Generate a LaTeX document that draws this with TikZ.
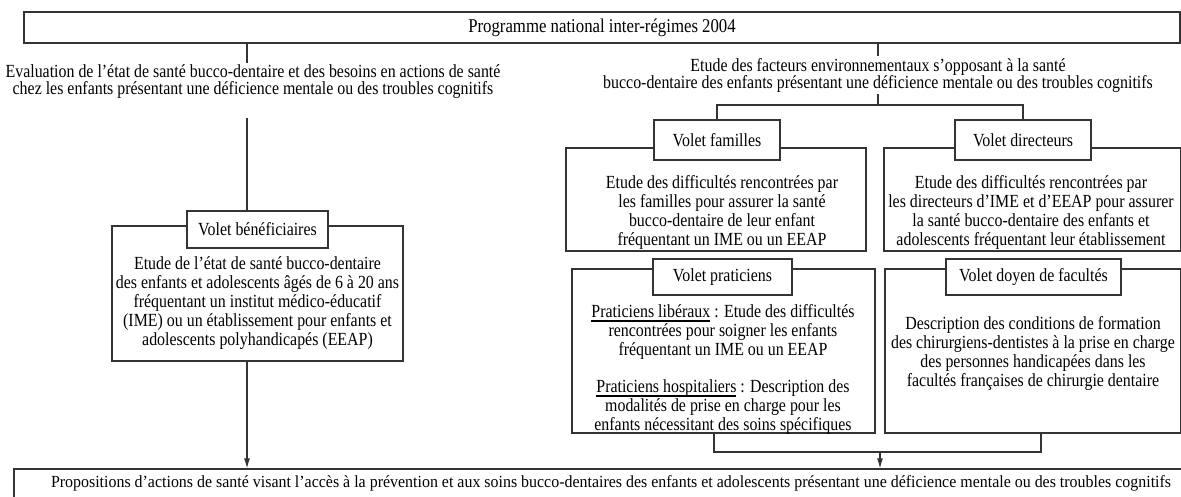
\documentclass[tikz,border=0pt]{standalone}
\usepackage{fontspec}
\setmainfont{Liberation Serif}[FakeStretch=0.86]
\usepackage{graphicx}
\usetikzlibrary{arrows.meta}
\newsavebox\ulbox
\newcommand\ulx[1]{\sbox\ulbox{#1}\rlap{\rule[-4.5pt]{\wd\ulbox}{1.7pt}}\usebox{\ulbox}}
\begin{document}
\begin{tikzpicture}[x=1pt,y=-1pt,
  every node/.style={font=\fontsize{18.5}{19}\selectfont},
  frame/.style={draw=black!80, line width=1.2pt, fill=white, inner sep=0pt},
  txt/.style={inner sep=0pt, align=center},
  hdr/.style={txt, font=\fontsize{18.5}{17}\selectfont},
  conn/.style={draw=black!80, line width=1.2pt},
  arr/.style={conn, -{Latex[length=10pt,width=6pt]}}]
\useasboundingbox (0,0) rectangle (1181,497);

% top
\node[frame, minimum width=1156pt, minimum height=31pt, font=\fontsize{19.5}{20}\selectfont] (prog) at (602,27.5) {Programme national inter-régimes 2004};

% left branch
\node[hdr] (evalText) at (253,82) {Evaluation de l’état de santé bucco-dentaire et des besoins en actions de santé\\chez les enfants présentant une déficience mentale ou des troubles cognitifs};
\coordinate (evalTop) at (247,63);
\coordinate (evalBot) at (247,118);
\node[frame, minimum width=291pt, minimum height=135pt] (benef) at (257.5,293.5) {};
\node[frame, minimum width=141pt, minimum height=37pt] (vbenef) at (257.5,229.5) {Volet bénéficiaires};
\node[txt] (benefText) at (257.5,303) {Etude de l’état de santé bucco-dentaire\\des enfants et adolescents âgés de 6 à 20 ans\\fréquentant un institut médico-éducatif\\(IME) ou un établissement pour enfants et\\adolescents polyhandicapés (EEAP)};
\draw[conn] (prog.south -| evalTop) -- (evalTop);
\draw[conn] (evalBot) -- (vbenef.north -| evalBot);

% right branch
\node[hdr] (facText) at (878,75) {Etude des facteurs environnementaux s’opposant à la santé\\bucco-dentaire des enfants présentant une déficience mentale ou des troubles cognitifs};
\coordinate (facTop) at (878,56);
\coordinate (facBot) at (878,94);
\coordinate (jn) at (878,105);
\draw[conn] (prog.south -| facTop) -- (facTop);

\node[frame, minimum width=300pt, minimum height=103pt] (fam) at (716,199.5) {};
\node[frame, minimum width=126pt, minimum height=40pt] (vfam) at (717,140) {Volet familles};
\node[txt] (famText) at (722,212) {Etude des difficultés rencontrées par\\les familles pour assurer la santé\\bucco-dentaire de leur enfant\\fréquentant un IME ou un EEAP};

\node[frame, minimum width=297pt, minimum height=103pt] (dir) at (1032.5,199.5) {};
\node[frame, minimum width=136pt, minimum height=40pt] (vdir) at (1023,140) {Volet directeurs};
\node[txt] (dirText) at (1031,212) {Etude des difficultés rencontrées par\\les directeurs d’IME et d’EEAP pour assurer\\la santé bucco-dentaire des enfants et\\adolescents fréquentant leur établissement};

\draw[conn] (facBot) -- (jn);
\draw[conn] (vfam.north) -- (vfam.north |- jn) -- (vdir.north |- jn) -- (vdir.north);

\node[frame, minimum width=303pt, minimum height=164pt] (prat) at (723.5,351) {};
\node[frame, minimum width=139pt, minimum height=36pt] (vprat) at (722.5,277) {Volet praticiens};
\node[txt] (pratText) at (723,369) {\ulx{Praticiens libéraux} : Etude des difficultés\\rencontrées pour soigner les enfants\\fréquentant un IME ou un EEAP\\[18pt]\ulx{Praticiens hospitaliers} : Description des\\modalités de prise en charge pour les\\enfants nécessitant des soins spécifiques};

\node[frame, minimum width=296pt, minimum height=164pt] (doyen) at (1033,351) {};
\node[frame, minimum width=175pt, minimum height=36pt] (vdoyen) at (1033.5,277) {Volet doyen de facultés};
\node[txt] (doyenText) at (1033,353) {Description des conditions de formation\\des chirurgiens-dentistes à la prise en charge\\des personnes handicapées dans les\\facultés françaises de chirurgie dentaire};

% bottom
\node[frame, minimum width=1194pt, minimum height=36pt] (final) at (611,487) {};
\node[txt] (finalText) at (611,483) {\resizebox{1120pt}{\height}{\fontsize{17}{19}\selectfont Propositions d’actions de santé visant l’accès à la prévention et aux soins bucco-dentaires des enfants et adolescents présentant une déficience mentale ou des troubles cognitifs}};

\coordinate (bl) at (714,452);
\coordinate (br) at (1041,452);
\coordinate (bm) at (880,452);
\draw[conn] (prat.south -| bl) -- (bl) -- (br) -- (doyen.south -| br);
\draw[arr] (bm) -- (final.north -| bm);
\draw[arr] (benef.south -| evalBot) -- (final.north -| evalBot);
\end{tikzpicture}
\end{document}
